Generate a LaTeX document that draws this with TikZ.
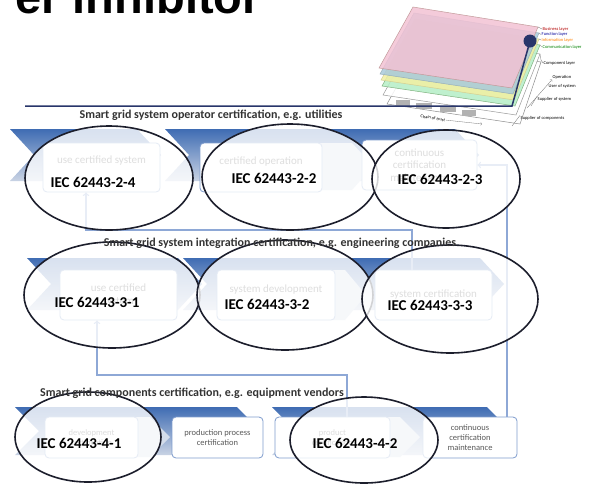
\documentclass[tikz,border=0pt]{standalone}
\usepackage{fontspec}
\setmainfont{Carlito}
\newfontfamily\headfont{Liberation Sans}

\definecolor{chevblue}{HTML}{3F6CB3}
\definecolor{chevpale}{HTML}{C9D3E4}
\definecolor{steppale}{HTML}{D3DCEA}
\definecolor{boxline}{HTML}{7F9CCD}
\definecolor{flowline}{HTML}{8EA8D6}
\definecolor{ringline}{HTML}{1C1E2C}
\definecolor{trustnavy}{HTML}{28356A}
\definecolor{txtgray}{HTML}{595959}
\definecolor{bizpink}{HTML}{F2C2D4}
\definecolor{funcblue}{HTML}{A9CADB}
\definecolor{infoyellow}{HTML}{F2EFA2}
\definecolor{commgreen}{HTML}{B5EEC6}

\tikzset{
  chev/.style={top color=chevblue, bottom color=chevpale, draw=none},
  stepchev/.style={fill=steppale, draw=none},
  stepbox/.style={draw=boxline, line width=0.8pt, fill=white, rounded corners=4pt,
    align=center, text=txtgray, inner sep=1pt, font=\fontsize{11}{12.5}\selectfont},
  smallbox/.style={stepbox, font=\fontsize{8.5}{10}\selectfont},
  flow/.style={draw=flowline, line width=1.3pt, ->},
  ring/.style={draw=ringline, line width=1.6pt, fill=white, fill opacity=0.8},
  iec/.style={font=\bfseries\fontsize{15}{15}\selectfont, text=black, inner sep=0pt},
  rowhead/.style={font=\bfseries\fontsize{12}{13}\selectfont, text=black!80, inner sep=0pt, anchor=base},
  plane/.style={line width=0.5pt, fill opacity=0.85},
  tag/.style={font=\fontsize{4.5}{5}\selectfont, anchor=west, inner sep=0.5pt},
  leader/.style={draw=black!55, line width=0.3pt},
}

\begin{document}
\begin{tikzpicture}[x=1pt,y=-1pt]
  \useasboundingbox (0,0) rectangle (591,491);
  \clip (0,0) rectangle (591,491);

  %slide heading, mostly off the top
  \node[font=\headfont\bfseries\fontsize{47}{47}\selectfont, anchor=base east, inner sep=0pt] (head) at (261,13.5) {er inhibitor};

  %layer stack
  \draw[plane, fill=white, draw=black!45] (421,43) -- (541,62) -- (520,124) -- (387,104) -- cycle;
  \fill[black!30] (396,100) rectangle (410,106);
  \fill[black!30] (416,103) rectangle (432,109);
  \fill[black!30] (440,106) rectangle (456,112);
  \fill[black!30] (462,110) rectangle (476,116);
  \draw[plane, fill=white, draw=black!40] (417,34) -- (540,54) -- (516,115) -- (383,95) -- cycle;
  \draw[plane, fill=commgreen, draw=green!40!black!50] (416,25) -- (540,45) -- (515,106) -- (382,86) -- cycle;
  \draw[plane, fill=infoyellow, draw=yellow!60!black!50] (415,19) -- (539,39) -- (514,100) -- (381,80) -- cycle;
  \draw[plane, fill=funcblue, draw=cyan!40!black!50] (414,13) -- (539,33) -- (513,94) -- (380,74) -- cycle;
  \draw[plane, fill=bizpink, draw=red!40!black!40] (413,7) -- (538,27) -- (512,88) -- (379,68) -- cycle;

  \node[tag, text=red!70!black] (biz) at (542,29) {Business layer};
  \node[tag, text=blue!60!black] (func) at (541,34.5) {Function layer};
  \node[tag, text=orange] (info) at (541,40) {Information layer};
  \node[tag, text=green!50!black] (comm) at (542,47) {Communication layer};
  \node[tag] (comp) at (543,63) {Component layer};
  \node[tag] (oper) at (552,77) {Operation};
  \node[tag] (user) at (548,86) {User of system};
  \node[tag] (supsys) at (537,99) {Supplier of system};
  \node[tag] (supcomp) at (520,118) {Supplier of components};
  \draw[leader] (538,27) -- (biz.west);
  \draw[leader] (539,33) -- (func.west);
  \draw[leader] (539,39) -- (info.west);
  \draw[leader] (540,45) -- (comm.west);
  \draw[leader] (540,54) -- (541,60) -- (comp.west);
  \draw[leader,->] (527,108) -- (oper.south west);
  \draw[leader] (531,106) -- (supsys.north west);
  \draw[leader] (512,126) -- (supcomp.north west);
  \node[tag, rotate=-9] (trust) at (420,116) {Chain of trust};
  \draw[leader,->] (trust.east) -- (482,124);

  %trust line down to the operator row
  \coordinate (dot) at (530,41);
  \draw[trustnavy, line width=1.5pt] (25,106) -- (512,106) -- (dot);
  \fill[trustnavy] (dot) circle (6.5);

  %operator row
  \shade[chev] (10,129) -- (137,129) -- (161,155) -- (137,181) -- (10,181) -- (34,155) -- cycle;
  \shade[chev] (165,129) -- (455,129) -- (479,155) -- (455,181) -- (165,181) -- (189,155) -- cycle;
  \fill[stepchev] (210,143) -- (352,143) -- (373,166) -- (352,190) -- (210,190) -- cycle;
  \node[stepbox, minimum width=117pt, minimum height=49pt] (opuse) at (101.5,167.5) {use certified system\\[4pt]\mbox{}};
  \node[stepbox, minimum width=122pt, minimum height=49pt] (opcert) at (261,167.5) {certified operation\\[2pt]\mbox{}};
  \node[stepbox, minimum width=115pt, minimum height=50pt] (opcont) at (419.5,165) {continuous\\certification\\maintenance};

  %integration row
  \shade[chev] (27,258) -- (178,258) -- (202,284) -- (178,310) -- (27,310) -- (51,284) -- cycle;
  \shade[chev] (183,258) -- (480,258) -- (504,284) -- (480,310) -- (183,310) -- (207,284) -- cycle;
  \fill[stepchev] (230,270) -- (345,270) -- (366,295) -- (345,320) -- (230,320) -- cycle;
  \node[stepbox, minimum width=117pt, minimum height=50pt] (inuse) at (118.5,295) {use certified\\system};
  \node[stepbox, minimum width=118pt, minimum height=50pt] (indev) at (276,295) {system development\\\mbox{}};
  \node[stepbox, minimum width=117pt, minimum height=50pt] (incert) at (433.5,295) {system certification};

  %components row
  \shade[chev] (15,407) -- (237,407) -- (261,431) -- (237,455) -- (15,455) -- (39,431) -- cycle;
  \shade[chev] (272,407) -- (487,407) -- (511,431) -- (487,455) -- (272,455) -- (296,431) -- cycle;
  \fill[stepchev] (60,417) -- (150,417) -- (170,437) -- (150,457) -- (60,457) -- cycle;
  \fill[stepchev] (300,417) -- (400,417) -- (420,437) -- (400,457) -- (300,457) -- cycle;
  \node[smallbox, minimum width=93pt, minimum height=41pt] (codev) at (91.5,437.5) {development\\certification};
  \node[smallbox, minimum width=91pt, minimum height=41pt] (coprod) at (217.5,437.5) {production process\\certification};
  \node[smallbox, minimum width=115pt, minimum height=41pt] (coproduct) at (332.5,437.5) {product\\certification};
  \node[smallbox, minimum width=94pt, minimum height=41pt] (cocont) at (470,437.5) {continuous\\certification\\maintenance};

  %feedback lines
  \coordinate (turnA) at (412,230);
  \coordinate (turnB) at (86,230);
  \coordinate (turnC) at (507,165);
  \coordinate (turnD) at (347,375);
  \coordinate (turnE) at (97,375);
  \draw[flow] (turnA |- incert.north) -- (turnA) -- (turnB) -- (turnB |- opuse.south);
  \draw[flow] (turnC |- cocont.north) -- (turnC) -- (opcont.east);
  \draw[flow] (turnD |- coproduct.north) -- (turnD) -- (turnE) -- (turnE |- inuse.south);

  %standards
  \draw[ring] (109,178) ellipse [x radius=84, y radius=52];
  \draw[ring] (290,177) ellipse [x radius=88, y radius=53];
  \draw[ring] (446,179) ellipse [x radius=74, y radius=49];
  \draw[ring] (112,295) ellipse [x radius=88, y radius=53];
  \draw[ring] (285,295) ellipse [x radius=88, y radius=55];
  \draw[ring] (450,299) ellipse [x radius=88, y radius=54];
  \draw[ring] (88,437) ellipse [x radius=73, y radius=45];
  \draw[ring] (364,440) ellipse [x radius=74, y radius=43];

  \node[iec] (iec24) at (93,182) {IEC 62443-2-4};
  \node[iec] (iec22) at (274,178) {IEC 62443-2-2};
  \node[iec] (iec23) at (440,179) {IEC 62443-2-3};
  \node[iec] (iec31) at (97,302) {IEC 62443-3-1};
  \node[iec] (iec32) at (267,304) {IEC 62443-3-2};
  \node[iec] (iec33) at (430,305) {IEC 62443-3-3};
  \node[iec] (iec41) at (79,443) {IEC 62443-4-1};
  \node[iec] (iec42) at (355,443) {IEC 62443-4-2};

  %row headings
  \node[rowhead] (ophead) at (211,118) {Smart grid system operator certification, e.g. utilities};
  \node[rowhead] (inhead) at (280,246) {Smart grid system integration certification, e.g. engineering companies};
  \node[rowhead] (cohead) at (192,396) {Smart grid components certification, e.g. equipment vendors};

\end{tikzpicture}
\end{document}
